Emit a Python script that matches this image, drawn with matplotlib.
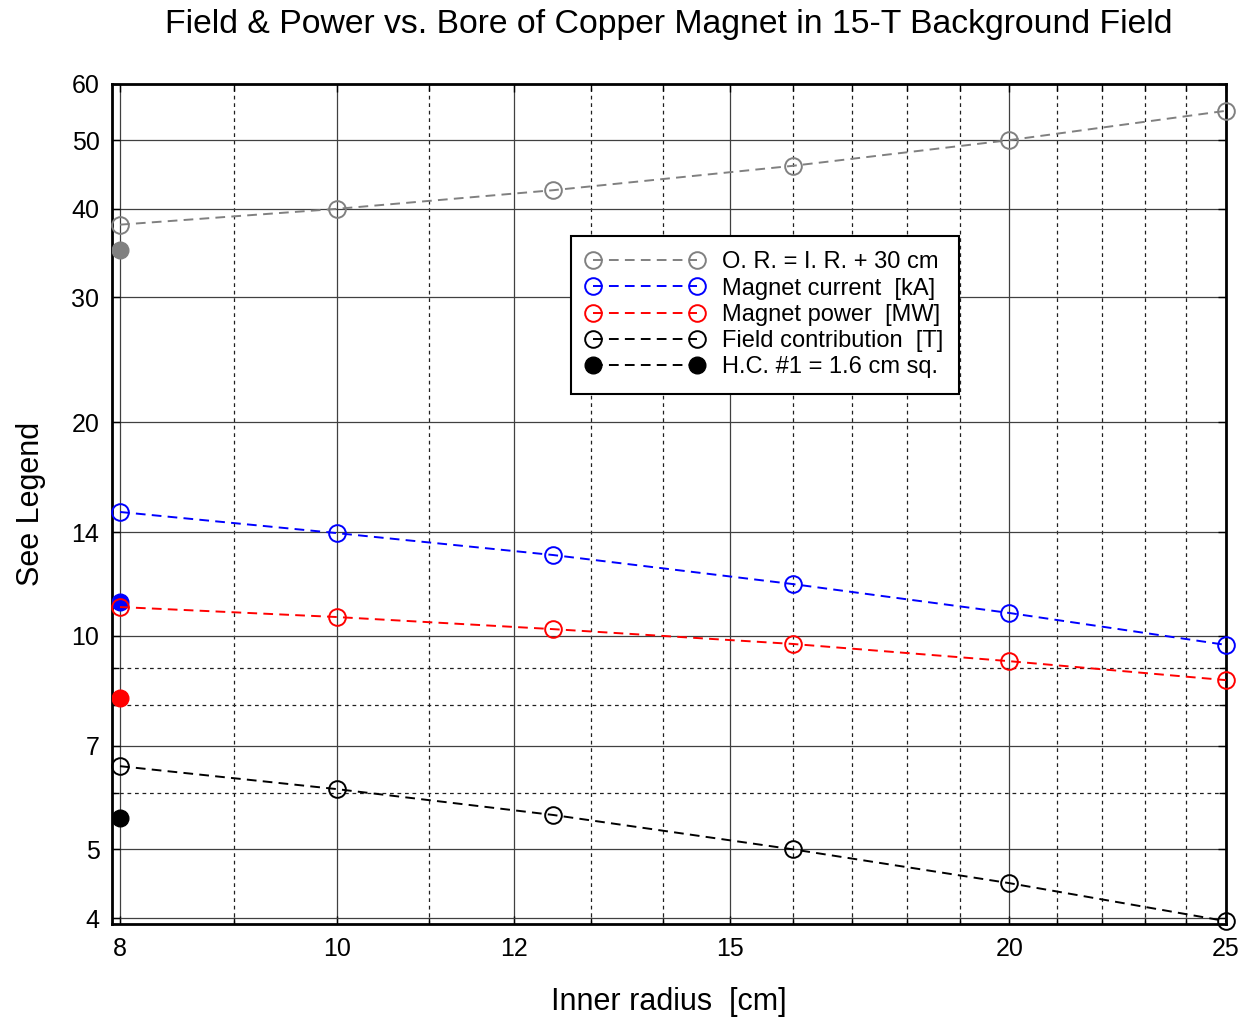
import numpy as np
import matplotlib
matplotlib.use('Agg')
import matplotlib.pyplot as plt
from matplotlib.ticker import FixedLocator, FixedFormatter, NullFormatter

plt.rcParams['font.family'] = ['Liberation Sans', 'DejaVu Sans']

## data
inner_r = [8, 10, 12.5, 16, 20, 25]
outer_r = [38, 40, 42.5, 46, 50, 55]
current = [14.95, 13.96, 13.0, 11.83, 10.77, 9.71]
power = [10.98, 10.63, 10.22, 9.74, 9.21, 8.66]
field = [6.55, 6.08, 5.59, 5.0, 4.48, 3.96]

# hollow conductor #1 points (all at r = 8 cm)
hc_r = [8]
hc_outer = [35.0]
hc_current = [11.16]
hc_power = [8.17]
hc_field = [5.53]

x_ticks = [8, 10, 12, 15, 20, 25]
x_minor = [9, 11, 13, 14, 16, 17, 18, 19, 21, 22, 23, 24]
y_ticks = [4, 5, 7, 10, 14, 20, 30, 40, 50, 60]
y_minor = [6, 8, 9]

fig = plt.figure(figsize=(12.51, 10.18), dpi=100)
ax = fig.add_axes([0.0895, 0.0923, 0.8905, 0.8252])

ms = 12
lw = 1.4
dash = (0, (5, 3.2))

# filled H.C. points first so the open markers sit on top
ax.plot(hc_r, hc_outer, 'o', color='gray', ms=ms, zorder=3)
ax.plot(hc_r, hc_current, 'o', color='blue', ms=ms, zorder=3)
ax.plot(hc_r, hc_power, 'o', color='red', ms=ms, zorder=3)
ax.plot(hc_r, hc_field, 'o', color='black', ms=ms, zorder=3)

series = [
    (outer_r, 'gray', 'O. R. = I. R. + 30 cm'),
    (current, 'blue', 'Magnet current  [kA]'),
    (power, 'red', 'Magnet power  [MW]'),
    (field, 'black', 'Field contribution  [T]'),
]
handles = []
for vals, col, lab in series:
    h, = ax.plot(inner_r, vals, linestyle=dash, color=col, lw=lw,
                 marker='o', ms=ms, mfc='none', mec=col, mew=1.4,
                 label=lab, zorder=4, clip_on=False)
    handles.append(h)
h_hc, = ax.plot([], [], linestyle=dash, color='black', lw=lw, marker='o',
                ms=ms, label='H.C. #1 = 1.6 cm sq.')
handles.append(h_hc)

ax.set_xscale('log')
ax.set_yscale('log')
ax.set_xlim(7.934, 25)
ax.set_ylim(3.923, 60)

ax.xaxis.set_major_locator(FixedLocator(x_ticks))
ax.xaxis.set_major_formatter(FixedFormatter([str(v) for v in x_ticks]))
ax.xaxis.set_minor_locator(FixedLocator(x_minor))
ax.xaxis.set_minor_formatter(NullFormatter())
ax.yaxis.set_major_locator(FixedLocator(y_ticks))
ax.yaxis.set_major_formatter(FixedFormatter([str(v) for v in y_ticks]))
ax.yaxis.set_minor_locator(FixedLocator(y_minor))
ax.yaxis.set_minor_formatter(NullFormatter())

ax.tick_params(which='both', direction='in', top=True, right=True,
               labelsize=18, width=1.0)
ax.tick_params(which='major', length=6, pad=9)
ax.tick_params(axis='y', which='major', pad=9)
ax.tick_params(which='minor', length=5)

ax.grid(which='major', color='#404040', linestyle='-', lw=0.9)
ax.grid(which='minor', color='#202020', linestyle=(0, (3, 3)), lw=0.9)
ax.set_axisbelow(True)
for sp in ax.spines.values():
    sp.set_linewidth(2.0)

ax.set_xlabel('Inner radius  [cm]', fontsize=22, labelpad=19)
ax.set_ylabel('See Legend', fontsize=22, labelpad=18)
ax.set_title('Field & Power vs. Bore of Copper Magnet in 15-T Background Field',
             fontsize=24.3, pad=37)

leg = ax.legend(handles=handles, loc='upper left', bbox_to_anchor=(0.412, 0.819),
                borderaxespad=0, numpoints=2, handlelength=5.0, fontsize=17,
                fancybox=False, framealpha=1, edgecolor='black',
                labelspacing=0.18, borderpad=0.65, handletextpad=0.75)
leg.get_frame().set_linewidth(1.5)

plt.savefig('out.png', dpi=100)
